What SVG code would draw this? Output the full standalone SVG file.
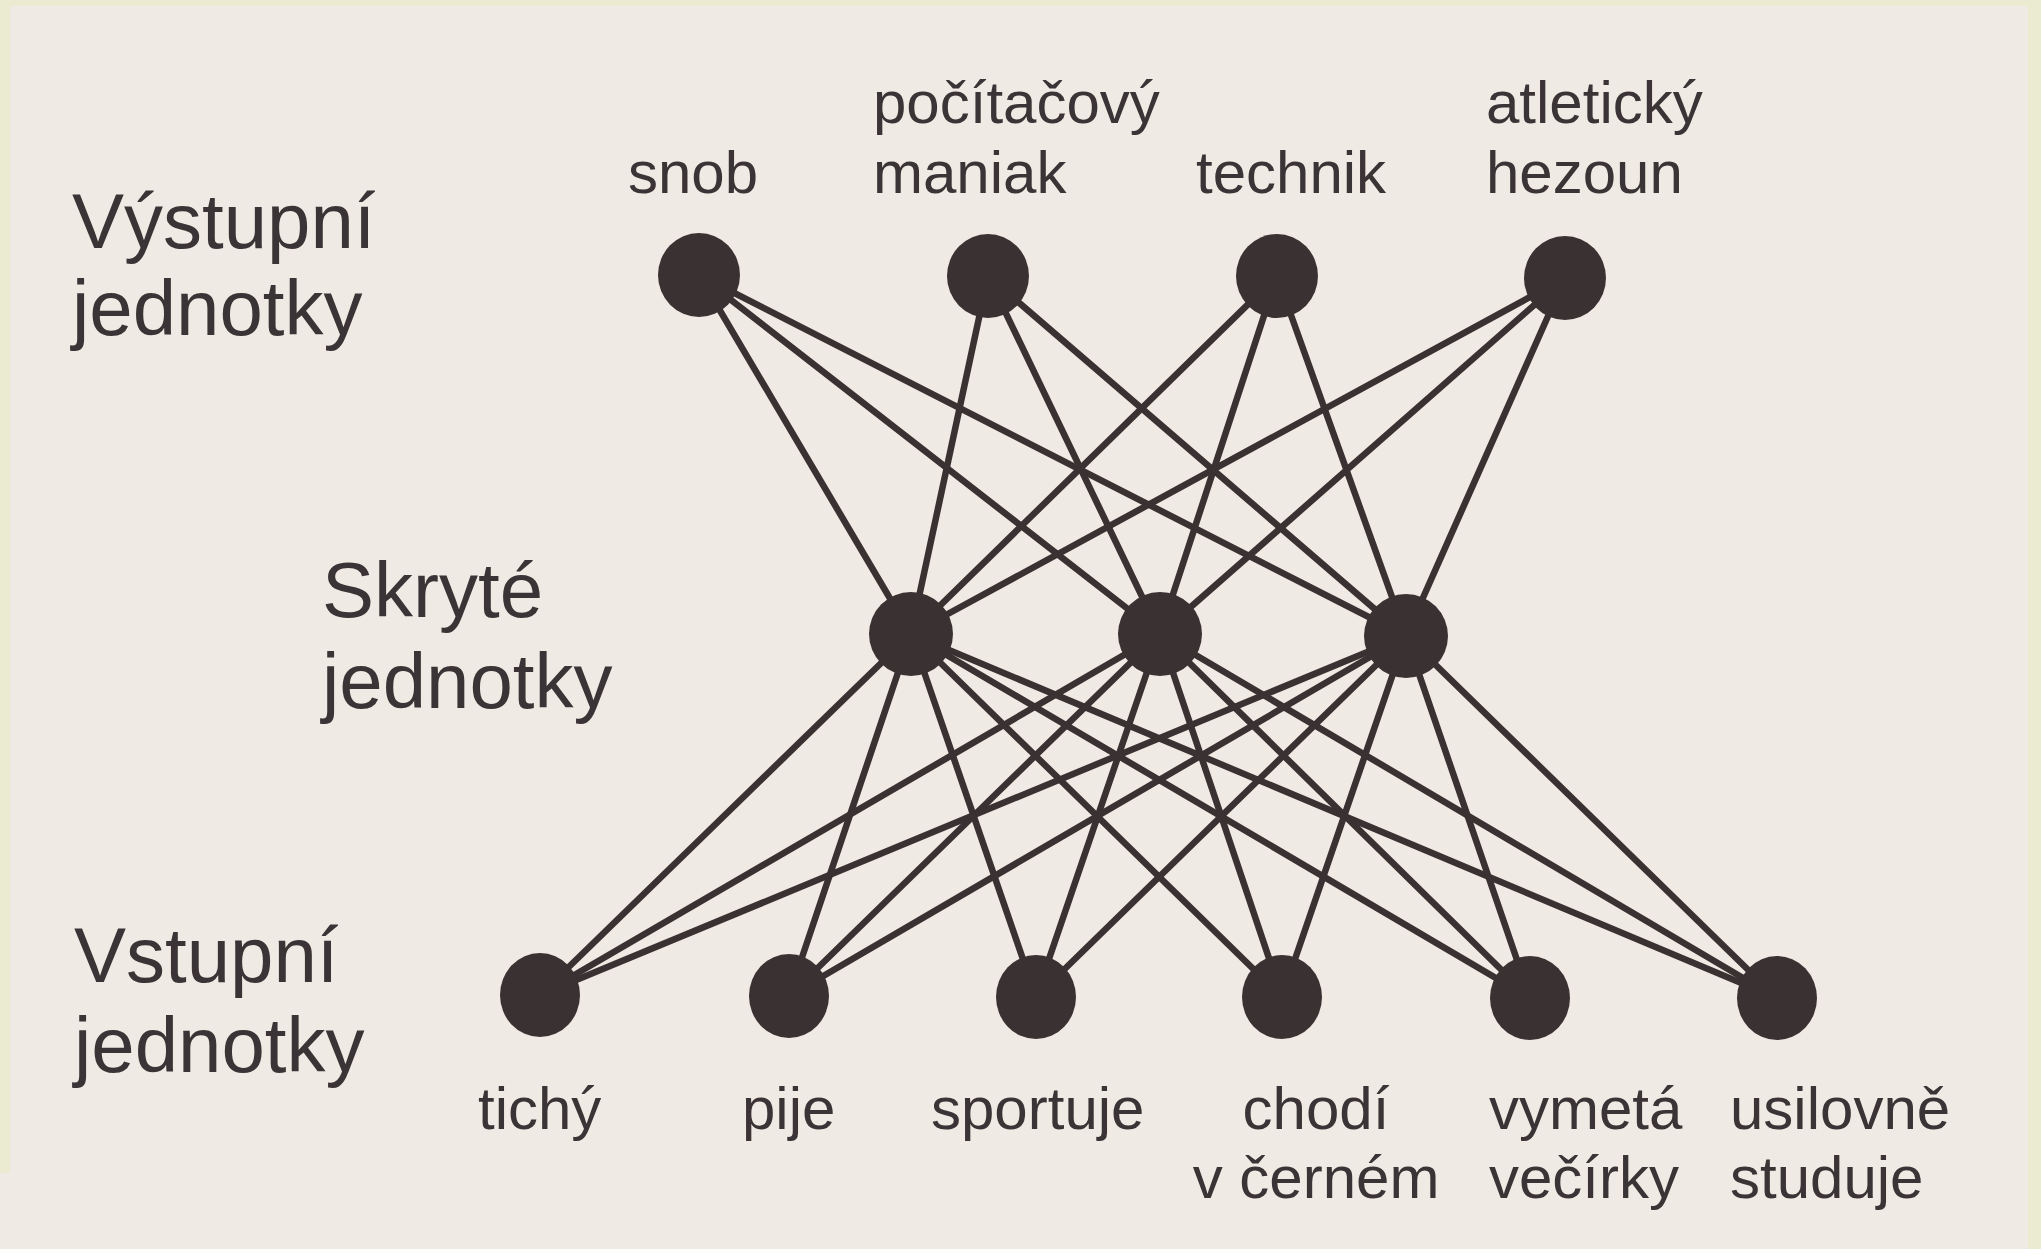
<svg xmlns="http://www.w3.org/2000/svg" width="2041" height="1249" viewBox="0 0 2041 1249">
<style>
.lbl{font-family:"Liberation Sans",Arial,sans-serif;fill:#3b3436;}
.big{font-size:78px;}
.sm{font-size:60px;}
.node{fill:#3a3133;}
#connectors line{stroke:#3a3133;stroke-width:6.5;stroke-linecap:round;}
</style>
<rect x="0" y="0" width="2041" height="1249" fill="#eaebd1"/>
<rect x="10" y="6" width="2018" height="1243" fill="#efeae3"/>
<rect x="0" y="1173" width="20" height="76" fill="#efeae3"/>

<g id="connectors">
<line x1="699" y1="275" x2="911" y2="634"/>
<line x1="699" y1="275" x2="1160" y2="634"/>
<line x1="699" y1="275" x2="1406" y2="636"/>
<line x1="988" y1="276" x2="911" y2="634"/>
<line x1="988" y1="276" x2="1160" y2="634"/>
<line x1="988" y1="276" x2="1406" y2="636"/>
<line x1="1277" y1="276" x2="911" y2="634"/>
<line x1="1277" y1="276" x2="1160" y2="634"/>
<line x1="1277" y1="276" x2="1406" y2="636"/>
<line x1="1565" y1="278" x2="911" y2="634"/>
<line x1="1565" y1="278" x2="1160" y2="634"/>
<line x1="1565" y1="278" x2="1406" y2="636"/>
<line x1="911" y1="634" x2="540" y2="995"/>
<line x1="911" y1="634" x2="789" y2="996"/>
<line x1="911" y1="634" x2="1036" y2="997"/>
<line x1="911" y1="634" x2="1282" y2="997"/>
<line x1="911" y1="634" x2="1530" y2="998"/>
<line x1="911" y1="634" x2="1777" y2="998"/>
<line x1="1160" y1="634" x2="540" y2="995"/>
<line x1="1160" y1="634" x2="789" y2="996"/>
<line x1="1160" y1="634" x2="1036" y2="997"/>
<line x1="1160" y1="634" x2="1282" y2="997"/>
<line x1="1160" y1="634" x2="1530" y2="998"/>
<line x1="1160" y1="634" x2="1777" y2="998"/>
<line x1="1406" y1="636" x2="540" y2="995"/>
<line x1="1406" y1="636" x2="789" y2="996"/>
<line x1="1406" y1="636" x2="1036" y2="997"/>
<line x1="1406" y1="636" x2="1282" y2="997"/>
<line x1="1406" y1="636" x2="1530" y2="998"/>
<line x1="1406" y1="636" x2="1777" y2="998"/>
</g>

<g id="layer-labels">
<text class="lbl big" x="72" y="248">Výstupní</text>
<text class="lbl big" x="72" y="335">jednotky</text>
<text class="lbl big" x="322" y="617">Skryté</text>
<text class="lbl big" x="322" y="708">jednotky</text>
<text class="lbl big" x="74" y="982">Vstupní</text>
<text class="lbl big" x="74" y="1072">jednotky</text>
</g>

<g id="out-snob">
<ellipse class="node" cx="699" cy="275" rx="41" ry="42"/>
<text class="lbl sm" x="628" y="193">snob</text>
</g>
<g id="out-maniak">
<ellipse class="node" cx="988" cy="276" rx="41" ry="42"/>
<text class="lbl sm" x="873" y="123">počítačový</text>
<text class="lbl sm" x="873" y="193">maniak</text>
</g>
<g id="out-technik">
<ellipse class="node" cx="1277" cy="276" rx="41" ry="42"/>
<text class="lbl sm" x="1196" y="193">technik</text>
</g>
<g id="out-hezoun">
<ellipse class="node" cx="1565" cy="278" rx="41" ry="42"/>
<text class="lbl sm" x="1486" y="123">atletický</text>
<text class="lbl sm" x="1486" y="193">hezoun</text>
</g>

<g id="hid-1"><ellipse class="node" cx="911" cy="634" rx="42" ry="42"/></g>
<g id="hid-2"><ellipse class="node" cx="1160" cy="634" rx="42" ry="42"/></g>
<g id="hid-3"><ellipse class="node" cx="1406" cy="636" rx="42" ry="42"/></g>

<g id="in-tichy">
<ellipse class="node" cx="540" cy="995" rx="40" ry="42"/>
<text class="lbl sm" x="478" y="1129">tichý</text>
</g>
<g id="in-pije">
<ellipse class="node" cx="789" cy="996" rx="40" ry="42"/>
<text class="lbl sm" x="742" y="1129">pije</text>
</g>
<g id="in-sportuje">
<ellipse class="node" cx="1036" cy="997" rx="40" ry="42"/>
<text class="lbl sm" x="931" y="1129">sportuje</text>
</g>
<g id="in-chodi">
<ellipse class="node" cx="1282" cy="997" rx="40" ry="42"/>
<text class="lbl sm" x="1316" y="1129" text-anchor="middle">chodí</text>
<text class="lbl sm" x="1316" y="1198" text-anchor="middle">v černém</text>
</g>
<g id="in-vymeta">
<ellipse class="node" cx="1530" cy="998" rx="40" ry="42"/>
<text class="lbl sm" x="1489" y="1129">vymetá</text>
<text class="lbl sm" x="1489" y="1198">večírky</text>
</g>
<g id="in-usilovne">
<ellipse class="node" cx="1777" cy="998" rx="40" ry="42"/>
<text class="lbl sm" x="1730" y="1129">usilovně</text>
<text class="lbl sm" x="1730" y="1198">studuje</text>
</g>
</svg>
